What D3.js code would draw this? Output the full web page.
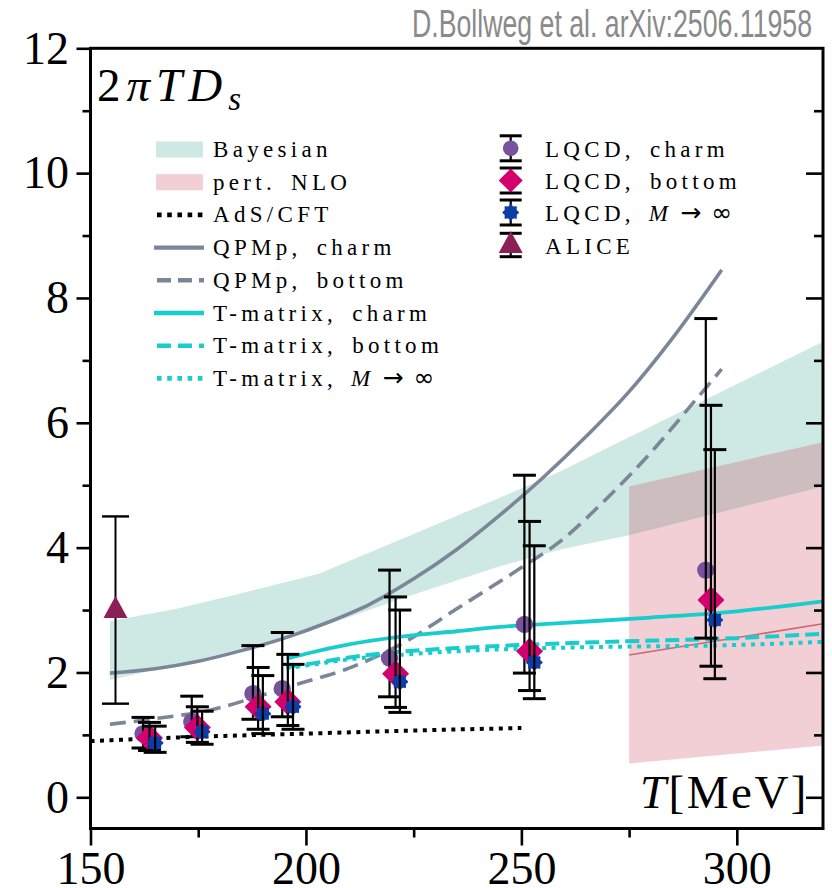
<!DOCTYPE html>
<html>
<head>
<meta charset="utf-8">
<script src="https://cdn.jsdelivr.net/npm/d3@7"></script>
<style>
  body { margin: 0; background: #fff; }
  svg { display: block; }
</style>
</head>
<body>
<div id="chart"></div>
<script>
// ---- data (T in MeV, 2πT D_s) ----
const xMajor = [150, 200, 250, 300];
const xMinor = [175, 225, 275];
const yMajor = [0, 2, 4, 6, 8, 10, 12];
const yMinor = [1, 3, 5, 7, 9, 11];

// lattice QCD points (slightly shifted in T for visibility, as in the figure)
const charmT  = [162.2, 173.5, 187.7, 194.5, 219.4, 250.7, 292.8];
const charmV  = [1.02, 1.21, 1.66, 1.74, 2.23, 2.77, 3.64];
const charmLo = [0.79, 0.97, 1.25, 1.29, 1.61, 1.99, 2.55];
const charmHi = [1.28, 1.62, 2.43, 2.64, 3.64, 5.16, 7.67];

const bottomT  = [163.7, 174.8, 188.9, 195.8, 220.8, 251.9, 294.0];
const bottomV  = [0.95, 1.12, 1.45, 1.53, 1.98, 2.34, 3.16];
const bottomLo = [0.75, 0.88, 1.09, 1.15, 1.44, 1.71, 2.10];
const bottomHi = [1.20, 1.45, 2.08, 2.29, 3.21, 4.42, 6.28];

const minfT  = [165.0, 175.9, 190.0, 197.0, 221.8, 253.0, 294.9];
const minfV  = [0.87, 1.05, 1.34, 1.45, 1.85, 2.16, 2.84];
const minfLo = [0.72, 0.85, 1.02, 1.09, 1.36, 1.58, 1.90];
const minfHi = [1.14, 1.38, 1.95, 2.13, 3.00, 4.03, 5.57];

const aliceT  = [155.8];
const aliceV  = [3.0];
const aliceLo = [1.5];
const aliceHi = [4.5];

// bands
const bayesT  = [154.5, 170, 185, 203, 225, 245, 259, 275, 290, 320];
const bayesHi = [2.82, 3.02, 3.27, 3.58, 4.22, 4.80, 5.22, 5.77, 6.28, 7.30];
const bayesLo = [1.88, 2.12, 2.38, 2.72, 3.25, 3.70, 3.97, 4.20, 4.46, 4.98];

const nloT   = [275, 320];
const nloHi  = [4.98, 5.69];
const nloLo  = [0.54, 0.83];
const nloMid = [2.28, 2.78];

// model curves
const adsT = [150, 175, 200, 225, 250];
const adsV = [0.90, 0.97, 1.02, 1.07, 1.11];

const qpmCharmT = [154.5, 165, 175, 185, 195, 205, 215, 225, 235, 245, 255, 265, 275, 285, 296.5];
const qpmCharmV = [1.99, 2.06, 2.18, 2.35, 2.55, 2.80, 3.10, 3.50, 3.97, 4.52, 5.12, 5.78, 6.50, 7.35, 8.45];

const qpmBottomT = [154.5, 165, 178, 190, 198, 210, 222, 235, 250, 259, 270, 280, 290, 296.5];
const qpmBottomV = [1.17, 1.26, 1.40, 1.64, 1.81, 2.07, 2.45, 3.02, 3.68, 4.10, 4.80, 5.52, 6.33, 6.86];

const tmCharmT = [195.5, 200, 210, 221.6, 235, 245, 259, 280, 300, 320];
const tmCharmV = [2.22, 2.30, 2.45, 2.57, 2.66, 2.73, 2.79, 2.88, 2.98, 3.14];

const tmBottomT = [195.5, 200, 210, 221.6, 235, 250, 270, 300, 320];
const tmBottomV = [2.09, 2.13, 2.24, 2.33, 2.39, 2.44, 2.49, 2.55, 2.62];

const tmMinfT = [195.5, 200, 210, 221.6, 235, 250, 270, 300, 320];
const tmMinfV = [2.07, 2.11, 2.21, 2.28, 2.34, 2.38, 2.41, 2.44, 2.49];

const legendLeft  = ["Bayesian", "pert. NLO", "AdS/CFT", "QPMp, charm", "QPMp, bottom",
                     "T-matrix, charm", "T-matrix, bottom", "T-matrix,"];
const legendRight = ["LQCD, charm", "LQCD, bottom", "LQCD,", "ALICE"];

// ---- colours ----
const C = {
    bayes: "#3aa58e", nlo: "#c8384f", nloLine: "#cc6474",
    grey: "#7b8798", cyan: "#19cdcd", ads: "#000",
    charm: "#7a519d", bottom: "#d4006e", minf: "#0c3ca6", alice: "#8b1f56"
};

const width = 832, height = 888;
const svg = d3.select("#chart").append("svg")
    .attr("width", width)
    .attr("height", height)
    .style("font-family", "'Liberation Serif', serif");

const x = d3.scaleLinear().domain([150, 320]).range([90.5, 823]);
const y = d3.scaleLinear().domain([-0.5, 12]).range([828.5, 48.3]);

svg.append("clipPath").attr("id", "clip")
    .append("rect")
    .attr("x", x(150)).attr("y", y(12))
    .attr("width", x(320) - x(150)).attr("height", y(-0.5) - y(12));

const plot = svg.append("g").attr("clip-path", "url(#clip)");

const zip = (ts, vs) => ts.map((t, i) => [t, vs[i]]);

// bands
const band = d3.area()
    .x(d => x(d.t)).y0(d => y(d.lo)).y1(d => y(d.hi));

plot.append("path")
    .datum(bayesT.map((t, i) => ({ t, lo: bayesLo[i], hi: bayesHi[i] })))
    .attr("d", band)
    .attr("fill", C.bayes).attr("fill-opacity", 0.25);

plot.append("path")
    .datum(nloT.map((t, i) => ({ t, lo: nloLo[i], hi: nloHi[i] })))
    .attr("d", band)
    .attr("fill", C.nlo).attr("fill-opacity", 0.24);

const line = d3.line().x(d => x(d[0])).y(d => y(d[1])).curve(d3.curveMonotoneX);

plot.append("path").datum(zip(nloT, nloMid)).attr("d", line)
    .attr("fill", "none").attr("stroke", C.nloLine).attr("stroke-width", 1.6);

// model curves
const curves = [
    { d: zip(adsT, adsV), color: C.ads, w: 4, dash: "4,5.5" },
    { d: zip(qpmCharmT, qpmCharmV), color: C.grey, w: 3.6, dash: null },
    { d: zip(qpmBottomT, qpmBottomV), color: C.grey, w: 3.6, dash: "16,8" },
    { d: zip(tmMinfT, tmMinfV), color: C.cyan, w: 4, dash: "4,5.5" },
    { d: zip(tmBottomT, tmBottomV), color: C.cyan, w: 4, dash: "14,6" },
    { d: zip(tmCharmT, tmCharmV), color: C.cyan, w: 3.8, dash: null }
];

plot.selectAll("path.curve")
    .data(curves)
    .enter().append("path")
    .attr("class", "curve")
    .attr("d", d => line(d.d))
    .attr("fill", "none")
    .attr("stroke", d => d.color)
    .attr("stroke-width", d => d.w)
    .attr("stroke-dasharray", d => d.dash);

// marker shapes
const diamond = "M0,-13.5L13.5,0L0,13.5L-13.5,0Z";
const flower = d3.lineRadial().curve(d3.curveCardinalClosed)
    (d3.range(16).map(i => [i * Math.PI / 8, i % 2 ? 6.6 : 8.4]));
const triangle = "M0,-14L12,8L-12,8Z";

function drawErrorbars(g, ts, lo, hi, capW, lw, capLw) {
    const eb = g.append("g").attr("stroke", "#000");
    ts.forEach((t, i) => {
        eb.append("line")
            .attr("x1", x(t)).attr("x2", x(t))
            .attr("y1", y(lo[i])).attr("y2", y(hi[i]))
            .attr("stroke-width", lw);
        [lo[i], hi[i]].forEach(v => {
            eb.append("line")
                .attr("x1", x(t) - capW / 2).attr("x2", x(t) + capW / 2)
                .attr("y1", y(v)).attr("y2", y(v))
                .attr("stroke-width", capLw);
        });
    });
}

function drawMarkers(g, ts, vs, shape, color) {
    g.append("g").selectAll("path")
        .data(ts.map((t, i) => [t, vs[i]]))
        .enter().append("path")
        .attr("transform", d => `translate(${x(d[0])},${y(d[1])})`)
        .attr("d", shape)
        .attr("fill", color);
}

const pts = svg.append("g");
const circle = d3.symbol().type(d3.symbolCircle).size(Math.PI * 8.7 * 8.7)();

drawMarkers(pts, charmT, charmV, circle, C.charm);
drawErrorbars(pts, charmT, charmLo, charmHi, 23, 2.2, 3);
drawMarkers(pts, bottomT, bottomV, diamond, C.bottom);
drawErrorbars(pts, bottomT, bottomLo, bottomHi, 23, 2.2, 3);
drawMarkers(pts, minfT, minfV, flower, C.minf);
drawErrorbars(pts, minfT, minfLo, minfHi, 23, 2.2, 3);

drawErrorbars(pts, aliceT, aliceLo, aliceHi, 27, 2, 2.4);
drawMarkers(pts, aliceT, aliceV, triangle, C.alice);

// ---- axes ----
const fontTick = 46;

function styleAxis(g) {
    g.select(".domain").remove();
    g.selectAll(".tick line").attr("stroke", "#000").attr("stroke-width", 2.6);
    g.selectAll(".tick text")
        .attr("fill", "#000")
        .style("font-family", "'Liberation Serif', serif")
        .style("font-size", fontTick + "px");
}

svg.append("g")
    .attr("transform", `translate(0,${y(-0.5)})`)
    .call(d3.axisBottom(x).tickValues(xMajor).tickSize(17).tickPadding(5.5).tickFormat(d3.format("d")))
    .call(styleAxis);
svg.append("g")
    .attr("transform", `translate(0,${y(-0.5)})`)
    .call(d3.axisBottom(x).tickValues(xMinor).tickSize(9).tickFormat(""))
    .call(styleAxis);

svg.append("g")
    .attr("transform", `translate(${x(150)},0)`)
    .call(d3.axisLeft(y).tickValues(yMajor).tickSize(14).tickPadding(7.5).tickFormat(d3.format("d")))
    .call(styleAxis);
svg.append("g")
    .attr("transform", `translate(${x(150)},0)`)
    .call(d3.axisLeft(y).tickValues(yMinor).tickSize(8).tickFormat(""))
    .call(styleAxis);

// right side: inward ticks, no labels
svg.append("g")
    .attr("transform", `translate(${x(320)},0)`)
    .call(d3.axisLeft(y).tickValues(yMajor.filter(v => v < 12)).tickSize(17).tickFormat(""))
    .call(styleAxis);
svg.append("g")
    .attr("transform", `translate(${x(320)},0)`)
    .call(d3.axisLeft(y).tickValues(yMinor).tickSize(9).tickFormat(""))
    .call(styleAxis);

// frame
svg.append("rect")
    .attr("x", x(150)).attr("y", y(12))
    .attr("width", x(320) - x(150)).attr("height", y(-0.5) - y(12))
    .attr("fill", "none").attr("stroke", "#000").attr("stroke-width", 3);

// ---- labels ----
const ylab = svg.append("text")
    .attr("x", 97).attr("y", 101)
    .style("font-size", "47px")
    .attr("letter-spacing", 6);
ylab.append("tspan").text("2");
ylab.append("tspan").attr("font-style", "italic").text("πTD");
ylab.append("tspan").attr("font-style", "italic").attr("dy", 9).style("font-size", "33px").text("s");

const xlab = svg.append("text")
    .attr("x", 809).attr("y", 808)
    .attr("text-anchor", "end")
    .style("font-size", "47px")
    .attr("letter-spacing", 2.5);
xlab.append("tspan").attr("font-style", "italic").text("T");
xlab.append("tspan").text("[MeV]");

svg.append("text")
    .attr("x", 412).attr("y", 37)
    .attr("textLength", 400)
    .attr("lengthAdjust", "spacingAndGlyphs")
    .style("font-family", "'Liberation Sans', sans-serif")
    .style("font-size", "39px")
    .attr("fill", "#8a8a8a")
    .text("D.Bollweg et al. arXiv:2506.11958");

// ---- legend ----
const legFont = { size: "23px", ls: 4.3, ws: 5 };
const rowStep = 32.7;

function infinityTail(t) {
    t.append("tspan").attr("dx", 14).attr("font-style", "italic").text("M");
    t.append("tspan").attr("letter-spacing", 0).attr("dx", 8)
        .style("font-family", "'DejaVu Sans', sans-serif").style("font-size", "25px")
        .text("→");
    t.append("tspan").attr("letter-spacing", 0).attr("dx", 10)
        .style("font-family", "'DejaVu Sans', sans-serif").style("font-size", "25px")
        .text("∞");
}

const leftG = svg.append("g").attr("transform", "translate(156,149.5)");
const leftSwatch = [
    { kind: "band", color: C.bayes, op: 0.25 },
    { kind: "band", color: C.nlo, op: 0.24 },
    { kind: "line", color: C.ads, w: 4.6, dash: "4.6,5.6" },
    { kind: "line", color: C.grey, w: 4.4, dash: null },
    { kind: "line", color: C.grey, w: 4.4, dash: "14,7" },
    { kind: "line", color: C.cyan, w: 4.4, dash: null },
    { kind: "line", color: C.cyan, w: 4.4, dash: "14,7" },
    { kind: "line", color: C.cyan, w: 4.6, dash: "4.6,5.6" }
];

legendLeft.forEach((name, i) => {
    const row = leftG.append("g").attr("transform", `translate(0,${i * rowStep})`);
    const s = leftSwatch[i];
    if (s.kind === "band") {
        row.append("rect").attr("x", 0).attr("y", -8).attr("width", 47).attr("height", 16)
            .attr("fill", s.color).attr("fill-opacity", s.op);
    } else {
        row.append("line").attr("x1", s.dash ? 1 : -2).attr("x2", 48).attr("y1", 0).attr("y2", 0)
            .attr("stroke", s.color).attr("stroke-width", s.w)
            .attr("stroke-dasharray", s.dash);
    }
    const t = row.append("text")
        .attr("x", 57).attr("y", 7.5)
        .style("font-size", legFont.size)
        .attr("letter-spacing", legFont.ls)
        .attr("word-spacing", legFont.ws)
        .text(name);
    if (i === 7) infinityTail(t);
});

const rightG = svg.append("g").attr("transform", "translate(510.7,148.3)");
const rightMarks = [
    { shape: circle, color: C.charm, cap: 22, half: 12.5 },
    { shape: diamond, color: C.bottom, cap: 22, half: 12.5 },
    { shape: flower, color: C.minf, cap: 22, half: 12.5 },
    { shape: triangle, color: C.alice, cap: 22, half: 11.7 }
];
const rightRowY = [0, 32.2, 64.2, 96.7];

legendRight.forEach((name, i) => {
    const m = rightMarks[i];
    const row = rightG.append("g").attr("transform", `translate(0,${rightRowY[i]})`);
    row.append("line").attr("x1", 0).attr("x2", 0).attr("y1", -m.half).attr("y2", m.half)
        .attr("stroke", "#000").attr("stroke-width", 2.2);
    [-m.half, m.half].forEach(v => {
        row.append("line").attr("x1", -m.cap / 2).attr("x2", m.cap / 2).attr("y1", v).attr("y2", v)
            .attr("stroke", "#000").attr("stroke-width", 3);
    });
    row.append("path").attr("d", i === 1 ? "M0,-12L12,0L0,12L-12,0Z" : m.shape).attr("fill", m.color)
        .attr("transform", i === 0 ? "scale(0.9)" : null);
    const t = row.append("text")
        .attr("x", 34.3).attr("y", 8.6)
        .style("font-size", legFont.size)
        .attr("letter-spacing", legFont.ls)
        .attr("word-spacing", legFont.ws)
        .text(name);
    if (i === 2) infinityTail(t);
});
</script>
</body>
</html>
